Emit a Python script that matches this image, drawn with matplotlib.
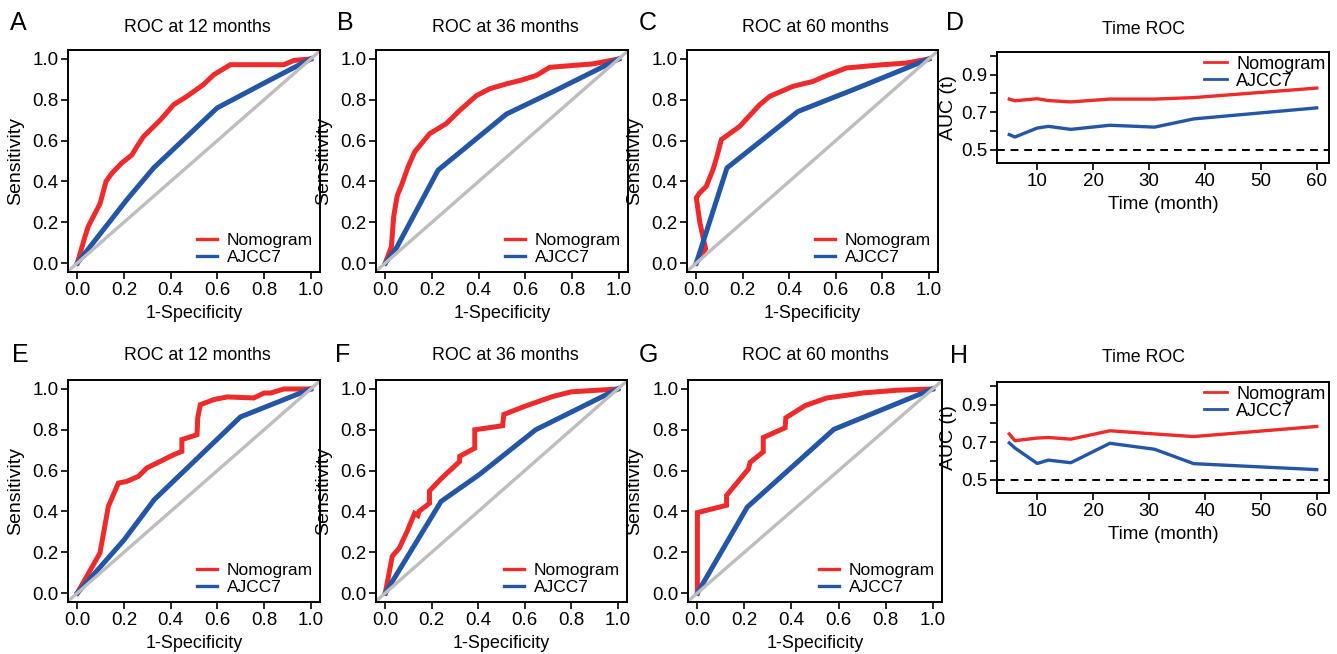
import matplotlib
matplotlib.use("Agg")
import matplotlib.pyplot as plt

plt.rcParams['font.family'] = ['Liberation Sans', 'DejaVu Sans']

RED = '#EE2A2A'
BLUE = '#2356A6'
GRAY = '#BEBEBE'

# ---- ROC curves (1-specificity, sensitivity) ----
a_nomo_x = [0, 0.033, 0.047, 0.097, 0.123, 0.148, 0.19, 0.234, 0.255, 0.284, 0.355, 0.413, 0.47, 0.54, 0.585, 0.656, 0.728, 0.814, 0.885, 0.928, 1.0]
a_nomo_y = [0, 0.13, 0.18, 0.29, 0.40, 0.44, 0.49, 0.53, 0.57, 0.62, 0.70, 0.776, 0.817, 0.874, 0.923, 0.972, 0.972, 0.972, 0.972, 0.993, 1.0]
a_ajcc_x = [0, 0.212, 0.327, 0.599, 0.814, 1.0]
a_ajcc_y = [0, 0.31, 0.466, 0.76, 0.89, 1.0]

b_nomo_x = [0, 0.026, 0.036, 0.051, 0.069, 0.097, 0.126, 0.19, 0.261, 0.319, 0.39, 0.447, 0.519, 0.576, 0.647, 0.704, 0.79, 0.89, 1.0]
b_nomo_y = [0, 0.08, 0.23, 0.33, 0.38, 0.47, 0.545, 0.634, 0.683, 0.748, 0.82, 0.854, 0.878, 0.894, 0.919, 0.959, 0.967, 0.976, 1.0]
b_ajcc_x = [0, 0.047, 0.226, 0.519, 0.719, 1.0]
b_ajcc_y = [0, 0.073, 0.455, 0.73, 0.84, 1.0]

c_nomo_x = [0, 0.04, 0.015, 0.0, 0.014, 0.043, 0.072, 0.089, 0.108, 0.187, 0.273, 0.316, 0.416, 0.502, 0.552, 0.646, 0.803, 0.904, 1.0]
c_nomo_y = [0, 0.07, 0.2, 0.32, 0.343, 0.376, 0.458, 0.523, 0.605, 0.67, 0.776, 0.817, 0.866, 0.89, 0.915, 0.956, 0.972, 0.98, 1.0]
c_ajcc_x = [0, 0.132, 0.438, 0.703, 1.0]
c_ajcc_y = [0, 0.466, 0.743, 0.862, 1.0]

e_nomo_x = [0, 0.097, 0.133, 0.176, 0.212, 0.262, 0.298, 0.341, 0.413, 0.448, 0.448, 0.513, 0.516, 0.527, 0.585, 0.642, 0.756, 0.8, 0.828, 0.885, 1.0]
e_nomo_y = [0, 0.196, 0.425, 0.539, 0.547, 0.572, 0.613, 0.637, 0.678, 0.694, 0.752, 0.776, 0.858, 0.923, 0.948, 0.961, 0.956, 0.98, 0.98, 1.0, 1.0]
e_ajcc_x = [0, 0.2, 0.33, 0.699, 1.0]
e_ajcc_y = [0, 0.26, 0.458, 0.863, 1.0]

f_nomo_x = [0, 0.03, 0.06, 0.093, 0.126, 0.14, 0.145, 0.19, 0.19, 0.24, 0.32, 0.32, 0.385, 0.385, 0.505, 0.51, 0.6, 0.72, 0.8, 0.9, 1.0]
f_nomo_y = [0, 0.18, 0.22, 0.30, 0.39, 0.38, 0.40, 0.44, 0.50, 0.56, 0.645, 0.67, 0.71, 0.80, 0.82, 0.875, 0.915, 0.963, 0.986, 0.993, 1.0]
f_ajcc_x = [0, 0.24, 0.404, 0.647, 1.0]
f_ajcc_y = [0, 0.449, 0.58, 0.80, 1.0]

g_nomo_x = [0, 0, 0.124, 0.124, 0.217, 0.224, 0.28, 0.28, 0.373, 0.376, 0.459, 0.551, 0.708, 0.85, 1.0]
g_nomo_y = [0, 0.394, 0.43, 0.478, 0.608, 0.64, 0.692, 0.762, 0.81, 0.859, 0.919, 0.956, 0.981, 0.994, 1.0]
g_ajcc_x = [0, 0.212, 0.58, 1.0]
g_ajcc_y = [0, 0.421, 0.802, 1.0]

# ---- time-dependent AUC ----
times = [5, 6, 10, 12, 16, 23, 31, 38, 60]
d_nomo_auc = [0.770, 0.761, 0.772, 0.762, 0.755, 0.770, 0.770, 0.778, 0.829]
d_ajcc_auc = [0.580, 0.567, 0.615, 0.624, 0.608, 0.630, 0.620, 0.664, 0.723]
h_nomo_auc = [0.744, 0.708, 0.722, 0.725, 0.716, 0.761, 0.744, 0.730, 0.784]
h_ajcc_auc = [0.696, 0.669, 0.586, 0.604, 0.590, 0.694, 0.662, 0.585, 0.553]

roc_ticks = [0.0, 0.2, 0.4, 0.6, 0.8, 1.0]
auc_ticks = [0.5, 0.6, 0.7, 0.8, 0.9, 1.0]
auc_labels = ['0.5', '', '0.7', '', '0.9', '']
time_ticks = [10, 20, 30, 40, 50, 60]

W, H = 1337, 654
fig = plt.figure(figsize=(W / 100, H / 100), dpi=100)


def box(x0, y0, x1, y1):
    return [x0 / W, 1 - y1 / H, (x1 - x0) / W, (y1 - y0) / H]


def style_axes(ax):
    for s in ax.spines.values():
        s.set_linewidth(1.4)
    ax.tick_params(direction='out', length=5, width=1.2, labelsize=13.5, pad=2)


def thin_legend(leg, lw):
    for line in leg.get_lines():
        line.set_linewidth(lw)


def roc_panel(rect, title, tx, ty, nx, ny, ax_, ay_):
    ax = fig.add_axes(rect)
    ax.plot(nx, ny, color=RED, lw=3.6, solid_joinstyle='miter', label='Nomogram')
    ax.plot(ax_, ay_, color=BLUE, lw=3.6, label='AJCC7')
    ax.axline((0, 0), (1, 1), color=GRAY, lw=2.4)
    ax.set_xlim(-0.04, 1.04)
    ax.set_ylim(-0.044, 1.044)
    ax.set_xticks(roc_ticks)
    ax.set_yticks(roc_ticks)
    ax.set_xticklabels([f'{v:.1f}' for v in roc_ticks])
    ax.set_yticklabels([f'{v:.1f}' for v in roc_ticks])
    style_axes(ax)
    ax.set_xlabel('1-Specificity', fontsize=13)
    ax.set_ylabel('Sensitivity', fontsize=14)
    ax.xaxis.set_label_coords(0.5, -0.15)
    ax.yaxis.set_label_coords(-0.175, 0.5)
    leg = ax.legend(loc='lower right', frameon=False, fontsize=12.5, handlelength=1.1,
                    handletextpad=0.6, borderaxespad=0.2, labelspacing=0.1, borderpad=0.2)
    thin_legend(leg, 2.4)
    fig.text(tx / W, 1 - ty / H, title, ha='center', va='center', fontsize=12.8)
    return ax


def time_panel(rect, tx, ty, nomo, ajcc, ylab_x):
    ax = fig.add_axes(rect)
    ax.plot(times, nomo, color=RED, lw=2.4, label='Nomogram')
    ax.plot(times, ajcc, color=BLUE, lw=2.4, label='AJCC7')
    ax.axhline(0.5, color='black', lw=1.4, ls=(0, (4, 3)))
    ax.set_xlim(2.8, 62.2)
    ax.set_ylim(0.428, 1.022)
    ax.set_xticks(time_ticks)
    ax.set_yticks(auc_ticks)
    ax.set_yticklabels(auc_labels)
    style_axes(ax)
    ax.set_xlabel('Time (month)', fontsize=13.5)
    ax.set_ylabel('AUC (t)', fontsize=14)
    ax.xaxis.set_label_coords(0.5, -0.3)
    ax.yaxis.set_label_coords(ylab_x, 0.5)
    leg = ax.legend(loc='upper right', frameon=False, fontsize=13, handlelength=1.3,
                    handletextpad=0.5, borderaxespad=0.1, labelspacing=0.0, borderpad=0.1)
    thin_legend(leg, 2.0)
    fig.text(tx / W, 1 - ty / H, 'Time ROC', ha='center', va='center', fontsize=12.8)
    return ax


roc_panel(box(68, 50, 320, 272), 'ROC at 12 months', 197, 27, a_nomo_x, a_nomo_y, a_ajcc_x, a_ajcc_y)
roc_panel(box(376, 50, 628, 272), 'ROC at 36 months', 505, 27, b_nomo_x, b_nomo_y, b_ajcc_x, b_ajcc_y)
roc_panel(box(687, 50, 938, 272), 'ROC at 60 months', 815, 27, c_nomo_x, c_nomo_y, c_ajcc_x, c_ajcc_y)
time_panel(box(997, 52, 1329, 163), 1143, 30, d_nomo_auc, d_ajcc_auc, -0.12)

roc_panel(box(68, 380, 320, 602), 'ROC at 12 months', 197, 355, e_nomo_x, e_nomo_y, e_ajcc_x, e_ajcc_y)
roc_panel(box(376, 380, 627, 602), 'ROC at 36 months', 505, 355, f_nomo_x, f_nomo_y, f_ajcc_x, f_ajcc_y)
roc_panel(box(688, 380, 942, 602), 'ROC at 60 months', 815, 355, g_nomo_x, g_nomo_y, g_ajcc_x, g_ajcc_y)
time_panel(box(997, 382, 1329, 493), 1143, 358, h_nomo_auc, h_ajcc_auc, -0.12)

# panel letters
letters = ['A', 'B', 'C', 'D', 'E', 'F', 'G', 'H']
letter_x = [18, 345, 648, 955, 20, 343, 648, 959]
letter_y = [23, 23, 23, 23, 355, 355, 355, 356]
for lab, lx, ly in zip(letters, letter_x, letter_y):
    fig.text(lx / W, 1 - ly / H, lab, ha='center', va='center', fontsize=18)

fig.savefig('out.png', dpi=100)
